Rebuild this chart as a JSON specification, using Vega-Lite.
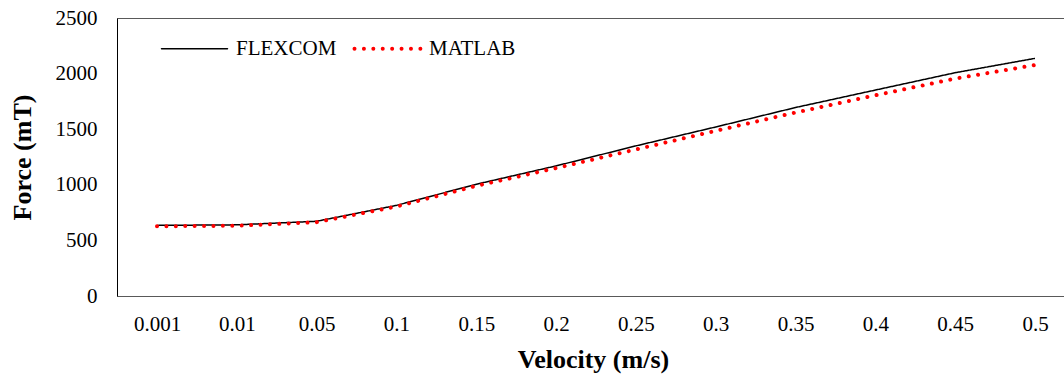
{
  "$schema": "https://vega.github.io/schema/vega-lite/v6.json",
  "width": 948,
  "height": 278,
  "autosize": {"type": "none"},
  "padding": {"left": 117, "top": 18, "right": 0, "bottom": 80},
  "background": "white",
  "config": {
    "font": "Liberation Serif",
    "view": {"stroke": "#595959", "strokeWidth": 1},
    "axis": {
      "grid": false,
      "ticks": false,
      "tickSize": 0,
      "labelFont": "Liberation Serif",
      "labelFontSize": 21,
      "labelColor": "black",
      "titleFont": "Liberation Serif",
      "titleFontSize": 26,
      "titleFontWeight": "bold",
      "titleColor": "black"
    },
    "legend": {
      "orient": "none",
      "legendX": 67,
      "legendY": 20,
      "direction": "horizontal",
      "symbolType": "stroke",
      "symbolSize": 4356,
      "symbolStrokeWidth": 1.5,
      "labelFont": "Liberation Serif",
      "labelFontSize": 21,
      "labelColor": "black",
      "labelOffset": 31,
      "columnPadding": 9,
      "padding": 0,
      "title": null
    }
  },
  "data": {
    "values": [
      {"velocity": "0.001", "series": "FLEXCOM", "force": 635},
      {"velocity": "0.01", "series": "FLEXCOM", "force": 640},
      {"velocity": "0.05", "series": "FLEXCOM", "force": 672},
      {"velocity": "0.1", "series": "FLEXCOM", "force": 815},
      {"velocity": "0.15", "series": "FLEXCOM", "force": 1005},
      {"velocity": "0.2", "series": "FLEXCOM", "force": 1170},
      {"velocity": "0.25", "series": "FLEXCOM", "force": 1350},
      {"velocity": "0.3", "series": "FLEXCOM", "force": 1520},
      {"velocity": "0.35", "series": "FLEXCOM", "force": 1695},
      {"velocity": "0.4", "series": "FLEXCOM", "force": 1852},
      {"velocity": "0.45", "series": "FLEXCOM", "force": 2008},
      {"velocity": "0.5", "series": "FLEXCOM", "force": 2137},
      {"velocity": "0.001", "series": "MATLAB", "force": 627},
      {"velocity": "0.01", "series": "MATLAB", "force": 632},
      {"velocity": "0.05", "series": "MATLAB", "force": 664},
      {"velocity": "0.1", "series": "MATLAB", "force": 805},
      {"velocity": "0.15", "series": "MATLAB", "force": 990},
      {"velocity": "0.2", "series": "MATLAB", "force": 1150},
      {"velocity": "0.25", "series": "MATLAB", "force": 1318},
      {"velocity": "0.3", "series": "MATLAB", "force": 1485},
      {"velocity": "0.35", "series": "MATLAB", "force": 1650},
      {"velocity": "0.4", "series": "MATLAB", "force": 1805},
      {"velocity": "0.45", "series": "MATLAB", "force": 1955},
      {"velocity": "0.5", "series": "MATLAB", "force": 2077}
    ]
  },
  "encoding": {
    "x": {
      "field": "velocity",
      "type": "nominal",
      "sort": ["0.001", "0.01", "0.05", "0.1", "0.15", "0.2", "0.25", "0.3", "0.35", "0.4", "0.45", "0.5"],
      "scale": {"type": "point", "padding": 0, "range": [40, 918]},
      "axis": {"title": "Velocity (m/s)", "labelAngle": 0, "labelPadding": 17, "titlePadding": 12, "domainColor": "#595959", "titleX": 476}
    },
    "y": {
      "field": "force",
      "type": "quantitative",
      "scale": {"domain": [0, 2500], "nice": false},
      "axis": {"title": "Force (mT)", "format": "d", "values": [0, 500, 1000, 1500, 2000, 2500], "labelPadding": 20, "titlePadding": 20, "domainColor": "black"}
    },
    "color": {
      "field": "series",
      "type": "nominal",
      "scale": {"domain": ["FLEXCOM", "MATLAB"], "range": ["black", "#ff0000"]},
      "legend": {
        "title": null,
        "encode": {
          "symbols": {
            "update": {
              "strokeWidth": {"signal": "datum.value === 'MATLAB' ? 4 : 1.5"},
              "strokeCap": {"value": "round"}
            }
          }
        }
      }
    },
    "strokeDash": {
      "field": "series",
      "type": "nominal",
      "scale": {"domain": ["FLEXCOM", "MATLAB"], "range": [[1, 0], [0.01, 9.4]]},
      "legend": {"title": null}
    }
  },
  "layer": [
    {
      "transform": [{"filter": "datum.series === 'FLEXCOM'"}],
      "mark": {"type": "line", "strokeWidth": 1.5}
    },
    {
      "transform": [{"filter": "datum.series === 'MATLAB'"}],
      "mark": {"type": "line", "strokeWidth": 4, "strokeCap": "round"}
    }
  ]
}
